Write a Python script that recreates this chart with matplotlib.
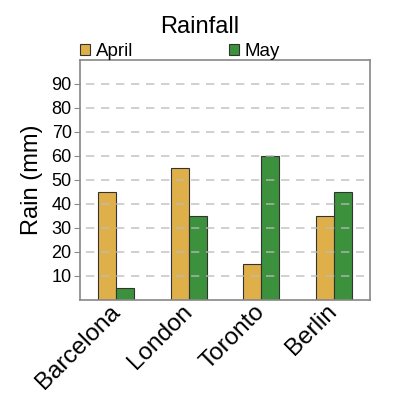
import matplotlib
matplotlib.use("Agg")
import matplotlib.pyplot as plt
import numpy as np

cities = ["Barcelona", "London", "Toronto", "Berlin"]
april = [45, 55, 15, 35]
may = [5, 35, 60, 45]
yticks = [10, 20, 30, 40, 50, 60, 70, 80, 90]

plt.rcParams['font.family'] = ['Liberation Sans', 'DejaVu Sans']

fig = plt.figure(figsize=(4, 4), dpi=100)
ax = fig.add_axes([0.2, 0.25, 0.725, 0.60])

x = np.arange(len(cities))
w = 0.25
c_apr = "#DFB04A"
c_may = "#3C913D"
ax.bar(x - w/2, april, width=w, color=c_apr, edgecolor="#333333", linewidth=0.8, label="April", zorder=2)
ax.bar(x + w/2, may, width=w, color=c_may, edgecolor="#333333", linewidth=0.8, label="May", zorder=2)

ax.set_xlim(-0.5, 3.5)
ax.set_ylim(0, 100)
ax.set_yticks(yticks)
ax.set_yticklabels([str(v) for v in yticks], fontsize=13)
ax.set_xticks(x)
ax.set_xticklabels(cities, rotation=45, ha="right", va="center", rotation_mode="anchor", fontsize=17.5)
ax.tick_params(axis="x", length=0, pad=6)
ax.tick_params(axis="y", length=4, color="#888888", pad=2)

for yv in yticks:
    ax.axhline(yv, color="#bbbbbb", linewidth=1.2, linestyle=(0, (5, 4)), alpha=0.8, zorder=3,
               xmin=0.02, xmax=0.98)

for s in ax.spines.values():
    s.set_color("#888888")
    s.set_linewidth(1.2)

ax.set_ylabel("Rain (mm)", fontsize=17, labelpad=6)

fig.text(0.5, 0.932, "Rainfall", ha="center", va="center", fontsize=17)
leg = ax.legend(ncol=2, loc="lower left", bbox_to_anchor=(0, 1.0),
                frameon=False, fontsize=13.5, handlelength=0.55, handleheight=0.55,
                handletextpad=0.3, borderaxespad=0.0, borderpad=0.0, columnspacing=5.1)

fig.savefig("out.png", dpi=100)
